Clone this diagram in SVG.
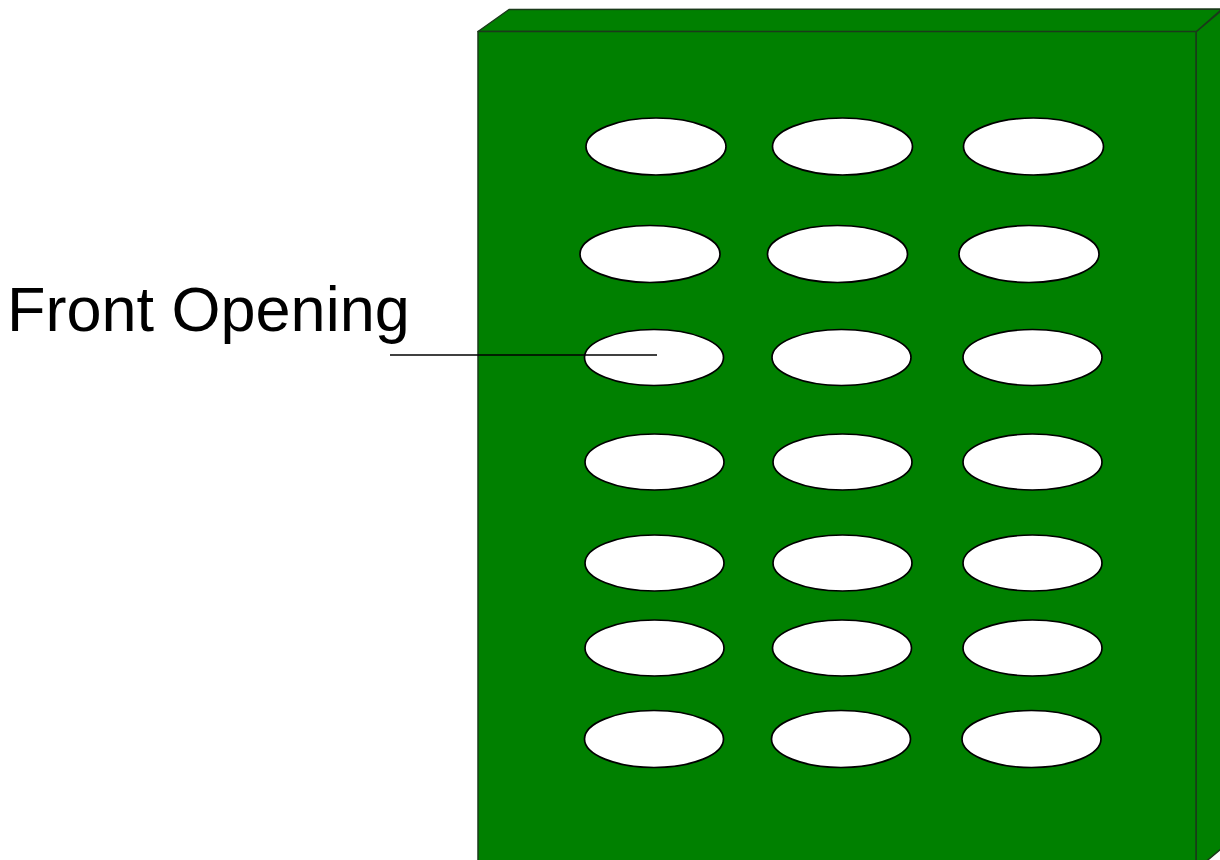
<svg xmlns="http://www.w3.org/2000/svg" width="1220" height="860" viewBox="0 0 1220 860">
<style>
.face{fill:#008000;stroke:#1a3a1a;stroke-width:1.5;stroke-linejoin:round}
.hole{fill:#ffffff;stroke:#000000;stroke-width:1.7}
.lbl{font-family:"Liberation Sans",Arial,sans-serif;font-size:63px;fill:#000000}
.lead{stroke:#000000;stroke-width:1.5;fill:none}
</style>
<rect width="1220" height="860" fill="#ffffff"/>
<g id="box">
<polygon class="face" points="478,31.5 509,9.5 1222,9 1196,32"/>
<polygon class="face" points="1196,32 1222,10 1222,848 1196,870"/>
<rect class="face" x="478" y="31.5" width="718" height="840"/>
</g>
<g id="holes">
<ellipse class="hole" cx="656" cy="146.5" rx="70" ry="28.5"/>
<ellipse class="hole" cx="842.5" cy="146.5" rx="70" ry="28.5"/>
<ellipse class="hole" cx="1033.5" cy="146.5" rx="70" ry="28.5"/>
<ellipse class="hole" cx="650" cy="254" rx="70" ry="28.5"/>
<ellipse class="hole" cx="837.5" cy="254" rx="70" ry="28.5"/>
<ellipse class="hole" cx="1029" cy="254" rx="70" ry="28.5"/>
<ellipse class="hole" cx="654" cy="357.5" rx="69.5" ry="28"/>
<ellipse class="hole" cx="841.5" cy="357.5" rx="69.5" ry="28"/>
<ellipse class="hole" cx="1032.5" cy="357.5" rx="69.5" ry="28"/>
<ellipse class="hole" cx="654.5" cy="462" rx="69.5" ry="28"/>
<ellipse class="hole" cx="842.5" cy="462" rx="69.5" ry="28"/>
<ellipse class="hole" cx="1032.5" cy="462" rx="69.5" ry="28"/>
<ellipse class="hole" cx="654.5" cy="563" rx="69.5" ry="28"/>
<ellipse class="hole" cx="842.5" cy="563" rx="69.5" ry="28"/>
<ellipse class="hole" cx="1032.5" cy="563" rx="69.5" ry="28"/>
<ellipse class="hole" cx="654.5" cy="648" rx="69.5" ry="28"/>
<ellipse class="hole" cx="842" cy="648" rx="69.5" ry="28"/>
<ellipse class="hole" cx="1032.5" cy="648" rx="69.5" ry="28"/>
<ellipse class="hole" cx="654" cy="739" rx="69.5" ry="28.5"/>
<ellipse class="hole" cx="841" cy="739" rx="69.5" ry="28.5"/>
<ellipse class="hole" cx="1031.5" cy="739" rx="69.5" ry="28.5"/>
</g>
<g id="label">
<text class="lbl" x="7" y="331">Front Opening</text>
</g>
<g id="connectors">
<line class="lead" x1="390" y1="355" x2="657" y2="355"/>
</g>
</svg>
